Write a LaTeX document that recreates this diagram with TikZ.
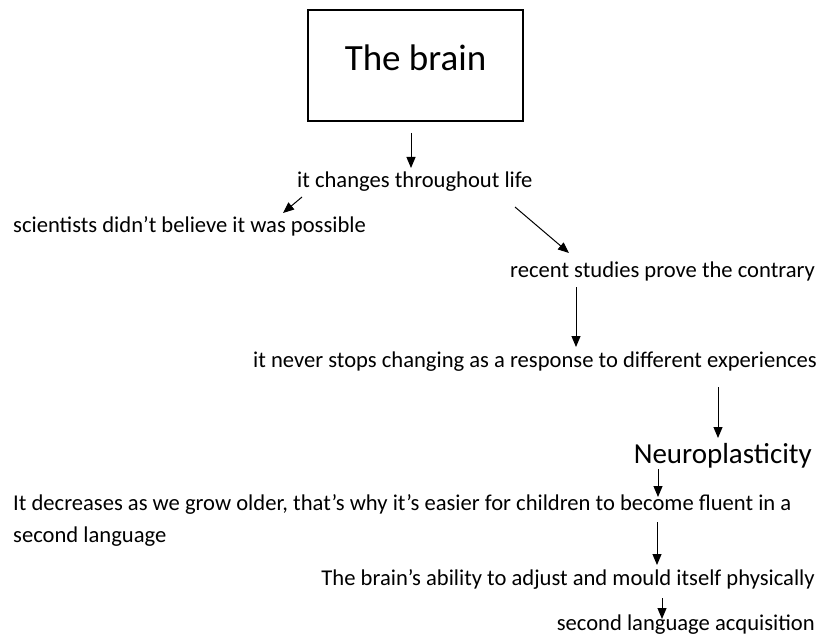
\documentclass[tikz,border=0pt]{standalone}
\usepackage{fontspec}
\setmainfont{Carlito}
\usetikzlibrary{arrows.meta}
\begin{document}
\begin{tikzpicture}[x=1pt,y=-1pt,
  txt/.style={inner sep=0pt, font=\fontsize{22.6}{32}\selectfont},
  link/.style={-{Triangle[length=11pt,width=9pt]}, line width=1pt},
]
\useasboundingbox (0,0) rectangle (821,639);

% title box
\node[draw, line width=2pt, anchor=base, inner xsep=0pt, inner ysep=0pt,
      minimum width=215pt, text height=61pt, text depth=50pt,
      font=\fontsize{37}{44}\selectfont] (brain) at (415.5,71) {The brain};

% statements
\node[txt, anchor=base west] (life) at (297,187) {it changes throughout life};
\node[txt, anchor=base west] (doubt) at (13,232) {scientists didn’t believe it was possible};
\node[txt, anchor=base east] (studies) at (815,277) {recent studies prove the contrary};
\node[txt, anchor=base east] (never) at (817,367) {it never stops changing as a response to different experiences};
\node[inner sep=0pt, anchor=base east, font=\fontsize{29}{34}\selectfont] (neuro) at (812,463) {Neuroplasticity};
% two-line node: its base anchor sits on the last line
\node[txt, anchor=base west, align=left] (older) at (13,542) {It decreases as we grow older, that’s why it’s easier for children to become fluent in a\\second language};
\node[txt, anchor=base east] (ability) at (815,585) {The brain’s ability to adjust and mould itself physically};
\node[txt, anchor=base east] (sla) at (815,630) {second language acquisition};

% arrow end points
\coordinate (a1s) at (411,133); \coordinate (a1e) at (411,168);
\coordinate (a2s) at (302,197); \coordinate (a2e) at (283,213);
\coordinate (a3s) at (515,207); \coordinate (a3e) at (569,253);
\coordinate (a4s) at (576,287); \coordinate (a4e) at (576,347);
\coordinate (a5s) at (718,387); \coordinate (a5e) at (718,438);
\coordinate (a6s) at (658,469); \coordinate (a6e) at (658,497);
\coordinate (a7s) at (657,522); \coordinate (a7e) at (657,565);
\coordinate (a8s) at (662,598); \coordinate (a8e) at (662,619);

\draw[link] (a1s) -- (a1e);
\draw[link] (a2s) -- (a2e);
\draw[link] (a3s) -- (a3e);
\draw[link] (a4s) -- (a4e);
\draw[link] (a5s) -- (a5e);
\draw[link] (a6s) -- (a6e);
\draw[link] (a7s) -- (a7e);
\draw[link] (a8s) -- (a8e);
\end{tikzpicture}
\end{document}
